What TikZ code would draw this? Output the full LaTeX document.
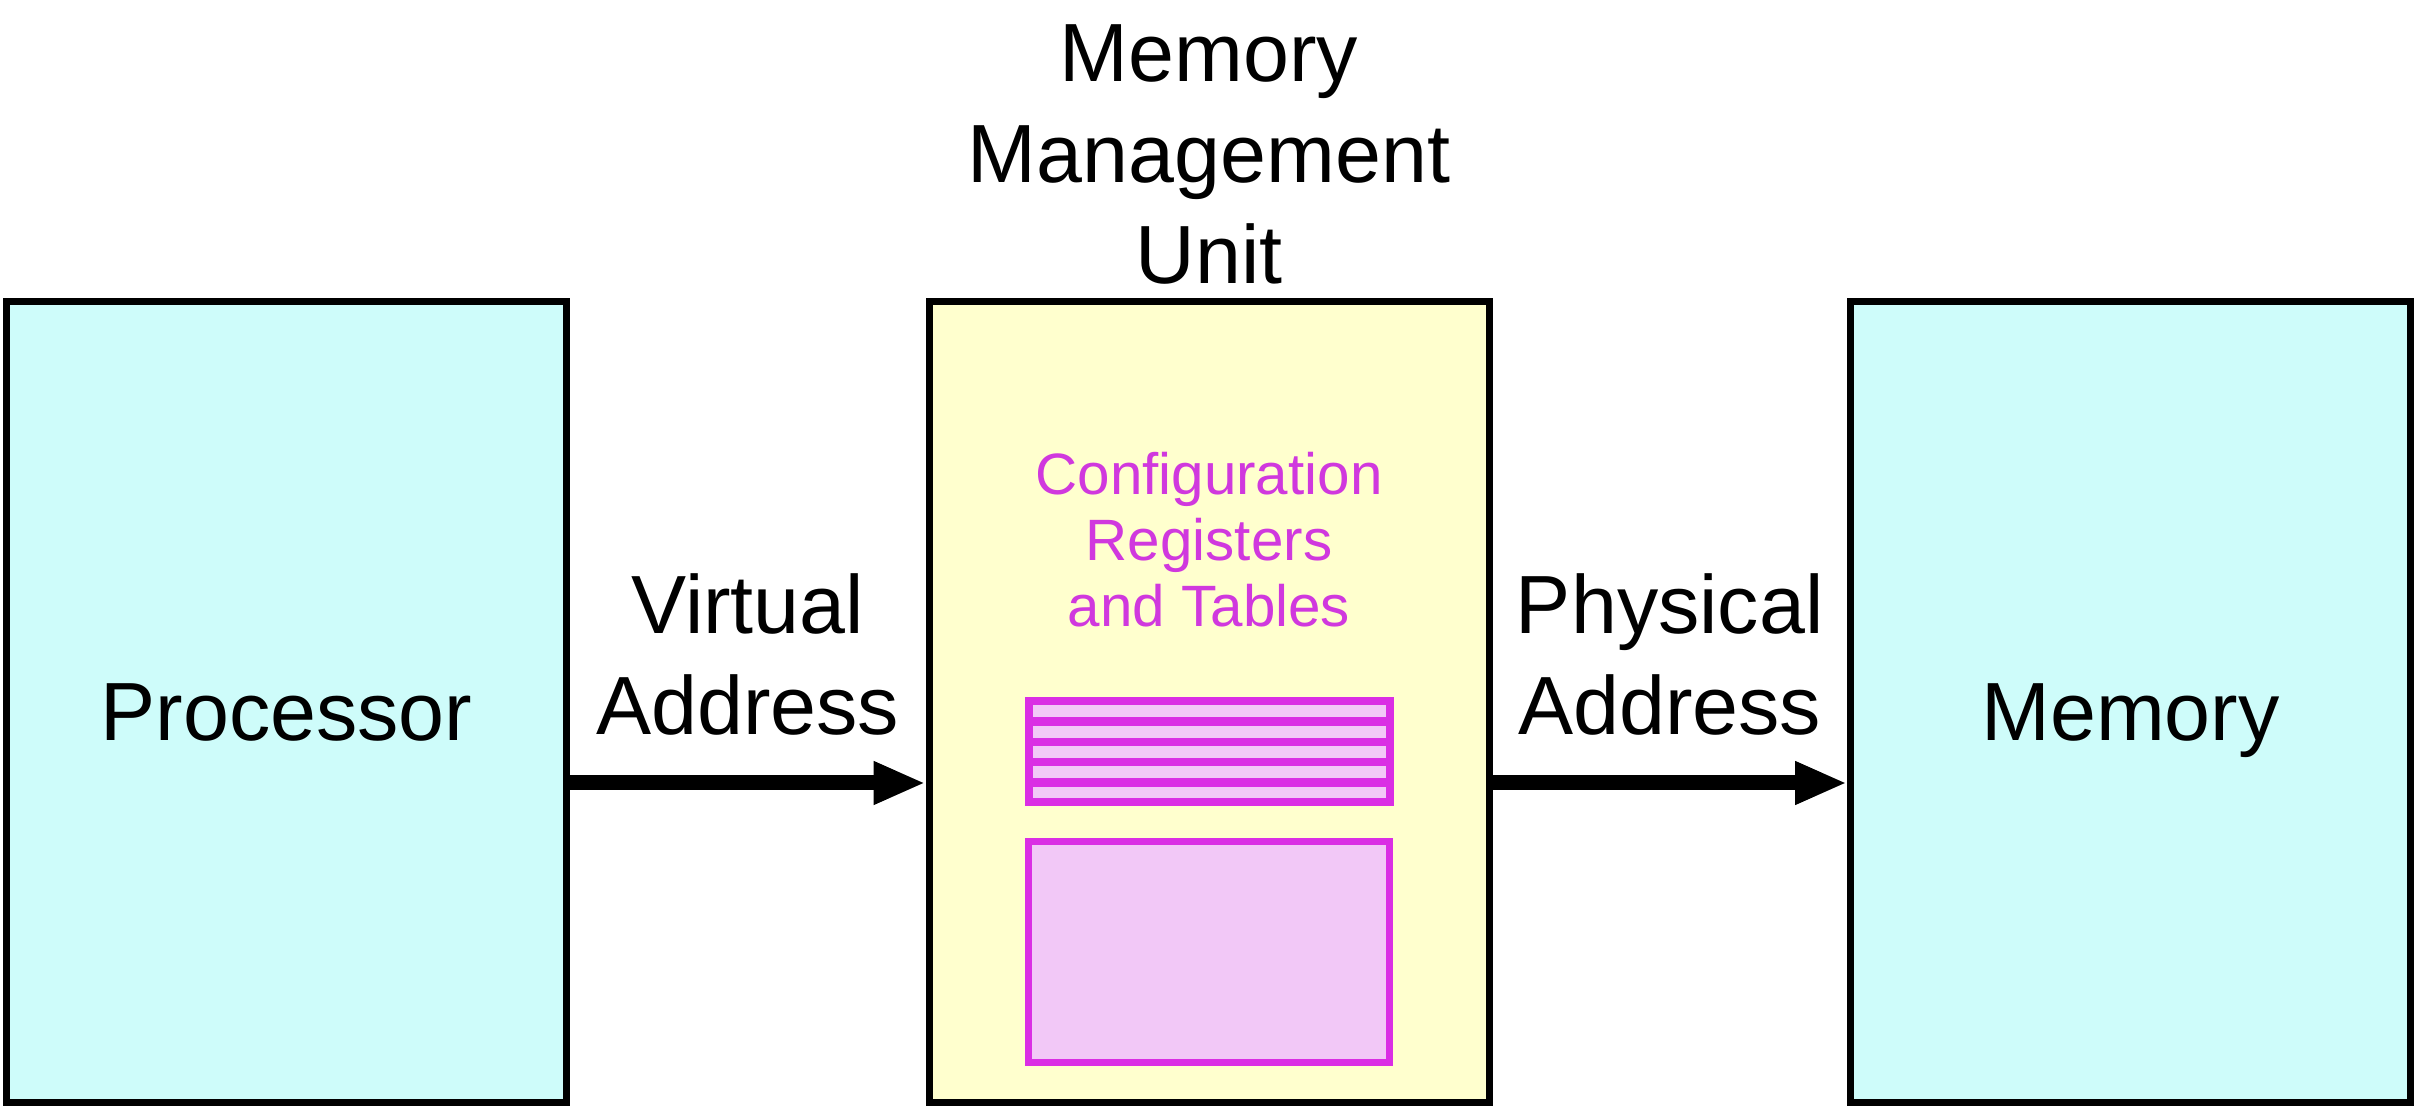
\documentclass[tikz,border=0pt]{standalone}
\usepackage{fontspec}
\setmainfont{Liberation Sans}
\usetikzlibrary{arrows.meta,positioning,calc}
\definecolor{unitcyan}{RGB}{206,252,250}
\definecolor{unityellow}{RGB}{255,255,206}
\definecolor{regpink}{RGB}{242,200,247}
\definecolor{regmagenta}{RGB}{218,46,228}
\definecolor{regtext}{RGB}{208,56,222}
\tikzset{
  unit/.style={
    draw=black,
    line width=0.07cm,
    minimum width=5.6cm,
    minimum height=8.01cm,
    inner sep=0pt,
    text height=0.78cm,
    text depth=0pt,
    font=\fontsize{23.5}{28.7}\selectfont
  },
  bus/.style={draw=black, line width=0.15cm, -{Triangle[length=0.52cm, width=0.40cm]}},
  biglabel/.style={align=center, inner sep=0pt, font=\fontsize{23.5}{28.7}\selectfont},
  reglabel/.style={align=center, inner sep=0pt, text=regtext, font=\fontsize{16.6}{18.8}\selectfont},
  regbox/.style={
    draw=regmagenta,
    fill=regpink,
    line width=0.08cm,
    minimum width=3.61cm,
    minimum height=1.01cm,
    inner sep=0pt,
    outer sep=0pt
  },
  regline/.style={draw=regmagenta, line width=0.085cm}
}

\begin{document}
\begin{tikzpicture}
  \useasboundingbox (0,0) rectangle (24.18,11.08);

  % the three units
  \node[unit, fill=unitcyan] (proc) at (2.865,4.06) {Processor};
  \node[unit, fill=unityellow] (mmu) at (12.09,4.06) {};
  \node[unit, fill=unitcyan] (mem) at (21.305,4.06) {Memory};
  \node[biglabel, above=0.13cm of mmu] (mmutitle) {Memory\\Management\\Unit};

  % registers and tables inside the MMU
  \node[regbox] (regs) at (12.09,3.56) {};
  \foreach \k in {1,...,4} {
    \draw[regline] ($(regs.south west)!\k/5!(regs.north west)$) -- ($(regs.south east)!\k/5!(regs.north east)$);
  }
  \node[regbox, minimum height=2.21cm, line width=0.07cm] (tables) at (12.09,1.56) {};
  \node[reglabel, above=0.74cm of regs] (cfg) {Configuration\\Registers\\and Tables};

  % address buses
  \draw[bus] ([yshift=-0.81cm]proc.east) -- ([yshift=-0.81cm]mmu.west)
    node[biglabel, midway, above=0.4cm] (vaddr) {Virtual\\Address};
  \draw[bus] ([yshift=-0.81cm]mmu.east) -- ([yshift=-0.81cm]mem.west)
    node[biglabel, midway, above=0.4cm] (paddr) {Physical\\Address};
\end{tikzpicture}
\end{document}
